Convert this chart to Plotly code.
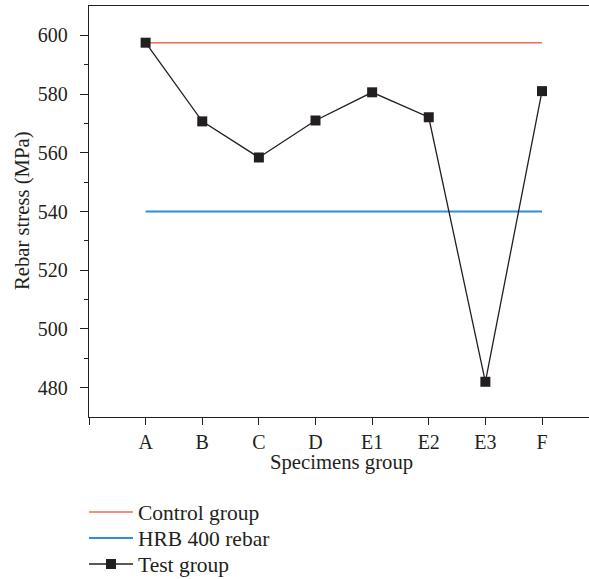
import plotly.graph_objects as go

# Specimen groups and measured rebar stress (MPa)
groups = ["A", "B", "C", "D", "E1", "E2", "E3", "F"]
test_stress = [597.5, 570.7, 558.4, 571.0, 580.6, 572.1, 482.0, 581.0]
control_stress = 597.5
hrb400_stress = 540.0

y_major = [480, 500, 520, 540, 560, 580, 600]
y_minor = [490, 510, 530, 550, 570, 590]

pos = list(range(len(groups)))

W, H = 589, 579
# plot area in pixels
L, T, R, B = 89, 6, 589, 417

fig = go.Figure()

fig.add_trace(go.Scatter(
    x=pos, y=[control_stress] * len(pos), mode="lines",
    name="Control group", line=dict(color="#EE6A55", width=1.5),
    legend="legend",
))
fig.add_trace(go.Scatter(
    x=pos, y=[hrb400_stress] * len(pos), mode="lines",
    name="HRB 400 rebar", line=dict(color="#2D8FD5", width=1.8),
    legend="legend2",
))
fig.add_trace(go.Scatter(
    x=pos, y=test_stress, mode="lines+markers",
    name="Test group", line=dict(color="#231F20", width=1.3),
    marker=dict(symbol="square", size=10, color="#231F20"),
    legend="legend3",
))

font_family = "Liberation Serif, Times New Roman, serif"
ink = "#231F20"


def legend_at(row_center):
    return dict(
        xref="container", yref="container",
        x=84 / W, y=1 - row_center / H, xanchor="left", yanchor="middle",
        bgcolor="rgba(0,0,0,0)", font=dict(size=21.5, family=font_family, color=ink),
        itemwidth=44,
    )


fig.update_layout(
    width=W, height=H,
    margin=dict(l=L, r=W - R, t=T, b=H - B, autoexpand=False),
    paper_bgcolor="white", plot_bgcolor="white",
    font=dict(family=font_family, size=20, color=ink),
    showlegend=True,
    legend=legend_at(512),
    legend2=legend_at(538),
    legend3=legend_at(564),
)

# axis titles
fig.add_annotation(
    text="Specimens group", xref="paper", yref="paper",
    x=(341 - L) / (R - L), y=(B - 462) / (B - T),
    xanchor="center", yanchor="middle", showarrow=False,
    font=dict(size=20.7, family=font_family, color=ink),
)
fig.add_annotation(
    text="Rebar stress (MPa)", xref="paper", yref="paper",
    x=(23 - L) / (R - L), y=(B - 211) / (B - T),
    xanchor="center", yanchor="middle", showarrow=False, textangle=-90,
    font=dict(size=20.7, family=font_family, color=ink),
)

fig.update_xaxes(
    range=[-1, 7.83],
    tickmode="array", tickvals=[-1] + pos, ticktext=[""] + groups,
    ticks="outside", ticklen=7, tickwidth=1.2, tickcolor=ink,
    tickfont=dict(size=20),
    showline=True, linecolor=ink, linewidth=1.3, mirror=True,
    showgrid=False, zeroline=False,
)
fig.update_yaxes(
    range=[470, 610],
    tickmode="array", tickvals=y_major,
    ticks="outside", ticklen=8, tickwidth=1.2, tickcolor=ink,
    ticklabelstandoff=8,
    tickfont=dict(size=20),
    minor=dict(tickmode="array", tickvals=y_minor,
               ticks="outside", ticklen=4, tickwidth=1.2, tickcolor=ink),
    showline=True, linecolor=ink, linewidth=1.3, mirror=True,
    showgrid=False, zeroline=False,
)

fig.write_html("out.html")
